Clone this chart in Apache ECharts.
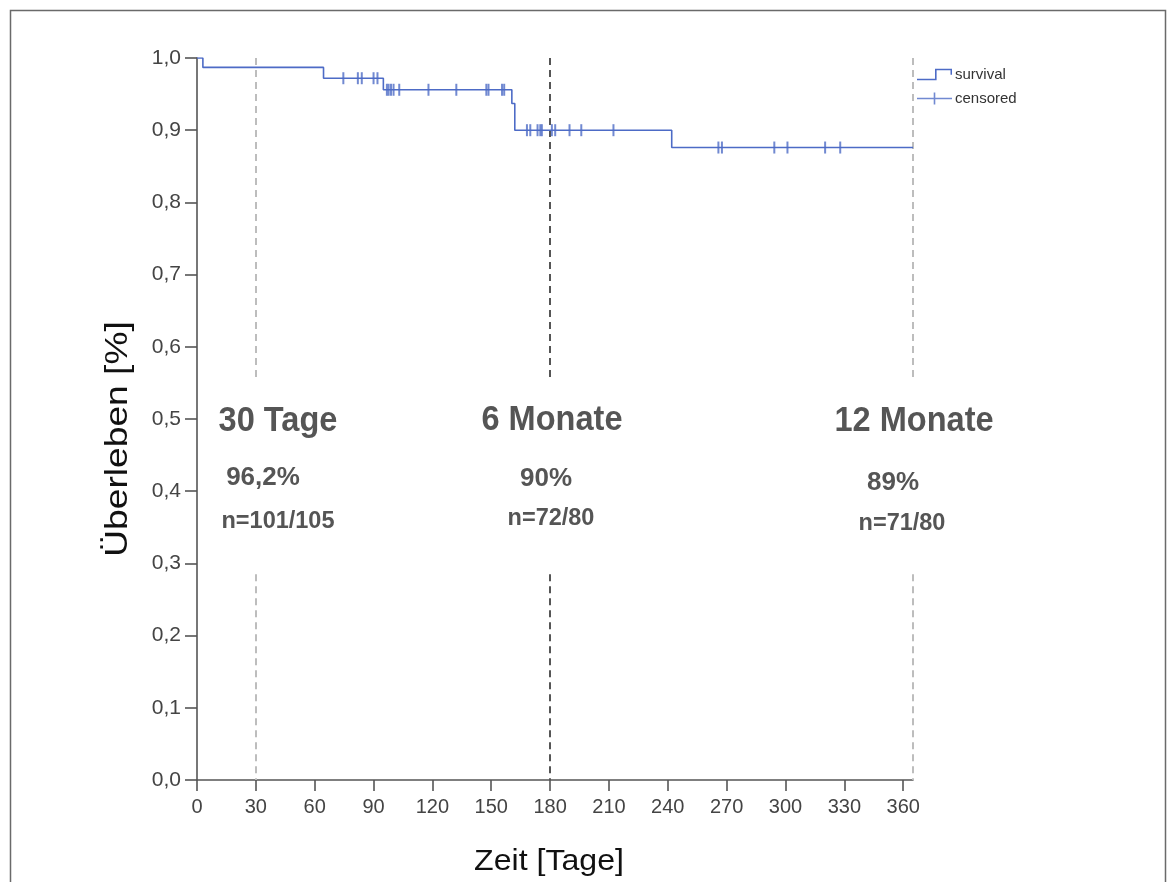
<!DOCTYPE html>
<html>
<head>
<meta charset="utf-8">
<script src="https://cdn.jsdelivr.net/npm/echarts@6/dist/echarts.min.js"></script>
<style>
html,body{margin:0;padding:0;background:#fff;}
#chart{width:1176px;height:882px;}
</style>
</head>
<body>
<div id="chart"></div>
<script>
// ---- data ----
const stepTimes = [0, 3, 64.5, 95, 160.5, 162, 242, 365];
const stepSurv  = [1.0, 0.987, 0.972, 0.956, 0.937, 0.900, 0.876, 0.876];

const censoredTimes = [74.6, 82, 84, 90, 92,
  96.8, 97.7, 98.9, 100.2, 103.1, 118, 132.2, 147.5, 148.6, 155.5, 156.6,
  168.2, 169.9, 173.6, 175, 175.8, 180.9, 182.6, 189.9, 195.9, 212.3,
  265.8, 267.6, 294.3, 301, 320.2, 327.9];
const censoredSurv = [0.972, 0.972, 0.972, 0.972, 0.972,
  0.956, 0.956, 0.956, 0.956, 0.956, 0.956, 0.956, 0.956, 0.956, 0.956, 0.956,
  0.900, 0.900, 0.900, 0.900, 0.900, 0.900, 0.900, 0.900, 0.900, 0.900,
  0.876, 0.876, 0.876, 0.876, 0.876, 0.876];

const xTicks = [0, 30, 60, 90, 120, 150, 180, 210, 240, 270, 300, 330, 360];
const yTicks = [0, 0.1, 0.2, 0.3, 0.4, 0.5, 0.6, 0.7, 0.8, 0.9, 1.0];

const markerDays   = [30, 180, 365];
const markerTitles = ['30 Tage', '6 Monate', '12 Monate'];
const markerPct    = ['96,2%', '90%', '89%'];
const markerN      = ['n=101/105', 'n=72/80', 'n=71/80'];
const markerGap    = [0.557, 0.285]; // dashed line interrupted between these survival values

const xName = 'Zeit [Tage]';
const yName = 'Überleben [%]';
const seriesNames = ['survival', 'censored'];

// ---- chart ----
const BLUE = '#4d6bc6';
const FONT = '"Liberation Sans", Arial, sans-serif';

const lineData = stepTimes.map((t, i) => [t, stepSurv[i]]);
const censData = censoredTimes.map((t, i) => [t, censoredSurv[i]]);

const markerStyles = [
  {color: '#bdbdbd', width: 2, type: [7, 5]},
  {color: '#555555', width: 2, type: [7, 5]},
  {color: '#bdbdbd', width: 2, type: [7, 5]}
];
const markLineData = [];
markerDays.forEach((d, i) => {
  markLineData.push([{coord: [d, 1.0], lineStyle: markerStyles[i]}, {coord: [d, markerGap[0]]}]);
  markLineData.push([{coord: [d, markerGap[1]], lineStyle: markerStyles[i]}, {coord: [d, 0]}]);
});

const titlePos = [[278, 421], [552, 420], [914, 421]];
const pctPos   = [[263, 478], [546, 479], [893, 483]];
const nPos     = [[278, 522], [551, 519], [902, 524]];

const graphics = [
  {type: 'rect', shape: {x: 10.5, y: 10.5, width: 1155, height: 900},
   style: {fill: 'none', stroke: '#6a6a6a', lineWidth: 1.5}, silent: true, z: 0},
  {type: 'text', x: 549, y: 862, scaleX: 1.07, style: {text: xName, font: '30px ' + FONT, fill: '#111',
   textAlign: 'center', textVerticalAlign: 'middle'}},
  {type: 'text', x: 118, y: 439, rotation: Math.PI / 2, scaleX: 1.2, style: {text: yName, font: '31px ' + FONT, fill: '#111',
   textAlign: 'center', textVerticalAlign: 'middle'}}
];
markerTitles.forEach((t, i) => {
  graphics.push({type: 'text', x: titlePos[i][0], y: titlePos[i][1], scaleX: 0.93, z: 10,
    style: {text: t, font: 'bold 35px ' + FONT, fill: '#555', textAlign: 'center', textVerticalAlign: 'middle'}});
  graphics.push({type: 'text', x: pctPos[i][0], y: pctPos[i][1], z: 10,
    style: {text: markerPct[i], font: 'bold 26px ' + FONT, fill: '#555', textAlign: 'center', textVerticalAlign: 'middle'}});
  graphics.push({type: 'text', x: nPos[i][0], y: nPos[i][1], z: 10,
    style: {text: markerN[i], font: 'bold 23.5px ' + FONT, fill: '#555', textAlign: 'center', textVerticalAlign: 'middle'}});
});

const chart = echarts.init(document.getElementById('chart'), null, {renderer: 'canvas'});
chart.setOption({
  backgroundColor: '#fff',
  animation: false,
  grid: {left: 197, top: 58, width: 716, height: 722, containLabel: false},
  legend: {
    orient: 'vertical', left: 912, top: 62, itemWidth: 35, itemHeight: 12, itemGap: 9,
    textStyle: {fontFamily: FONT, fontSize: 15, color: '#333', padding: [0, 0, 0, -2]},
    data: [
      {name: seriesNames[0], icon: 'path://M0,10 L18,10 L18,0 L35,0 L35,6 L33.5,6 L33.5,1.6 L19.6,1.6 L19.6,11.6 L0,11.6 Z'},
      {name: seriesNames[1], icon: 'path://M0,5.2 L16.7,5.2 L16.7,0 L18.3,0 L18.3,5.2 L35,5.2 L35,6.8 L18.3,6.8 L18.3,12 L16.7,12 L16.7,6.8 L0,6.8 Z'}
    ]
  },
  xAxis: {
    type: 'value', min: 0, max: 365, interval: 30,
    axisLine: {show: true, onZero: false, lineStyle: {color: '#555', width: 1.6}},
    axisTick: {show: true, length: 11, customValues: xTicks, lineStyle: {color: '#555', width: 1.6}},
    axisLabel: {customValues: xTicks, fontFamily: FONT, fontSize: 20, color: '#444', margin: 17},
    splitLine: {show: false}
  },
  yAxis: {
    type: 'value', min: 0, max: 1, interval: 0.1,
    axisLine: {show: true, lineStyle: {color: '#555', width: 1.6}},
    axisTick: {show: true, length: 12, lineStyle: {color: '#555', width: 1.6}},
    axisLabel: {fontFamily: FONT, fontSize: 21, color: '#444', margin: 16,
      formatter: v => v.toFixed(1).replace('.', ',')},
    splitLine: {show: false}
  },
  series: [
    {
      name: seriesNames[0], type: 'line', step: 'end', data: lineData,
      showSymbol: false, symbol: 'none', color: BLUE,
      lineStyle: {color: BLUE, width: 1.6}, z: 3,
      markLine: {symbol: 'none', silent: true, label: {show: false}, data: markLineData, z: 1}
    },
    {
      name: seriesNames[1], type: 'scatter', data: censData,
      symbol: 'rect', symbolSize: [2, 12], color: BLUE,
      itemStyle: {color: BLUE}, z: 4
    }
  ],
  graphic: graphics
});
</script>
</body>
</html>
